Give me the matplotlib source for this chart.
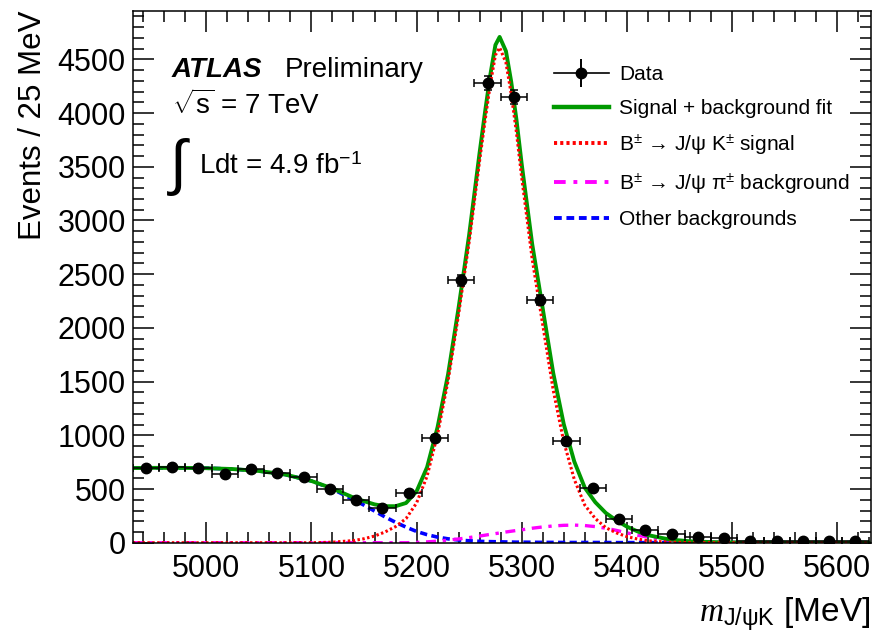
import numpy as np
import matplotlib
matplotlib.use("Agg")
import matplotlib.pyplot as plt
from matplotlib.ticker import MultipleLocator
from matplotlib.lines import Line2D

plt.rcParams['font.family'] = ['Liberation Sans', 'DejaVu Sans']
plt.rcParams['mathtext.fontset'] = 'custom'
plt.rcParams['mathtext.rm'] = 'Liberation Sans'
plt.rcParams['mathtext.it'] = 'Liberation Serif:italic'

# binned data, 25 MeV bins
m_bin = [4942.5, 4967.5, 4992.5, 5017.5, 5042.5, 5067.5, 5092.5, 5117.5, 5142.5, 5167.5,
         5192.5, 5217.5, 5242.5, 5267.5, 5292.5, 5317.5, 5342.5, 5367.5, 5392.5, 5417.5,
         5442.5, 5467.5, 5492.5, 5517.5, 5542.5, 5567.5, 5592.5, 5617.5]
events = [692, 707, 698, 637, 686, 646, 609, 500, 398, 326,
          465, 975, 2444, 4277, 4147, 2257, 945, 506, 221, 118,
          81, 55, 40, 15, 12, 12, 18, 16]

# fit curves
m_fit = [4930, 4950, 4975, 5000, 5025, 5050, 5075, 5100, 5120, 5140, 5150, 5160, 5170, 5180,
         5190, 5200, 5210, 5220, 5230, 5240, 5250, 5260, 5265, 5270, 5275, 5279, 5285, 5290,
         5295, 5300, 5310, 5320, 5330, 5340, 5350, 5360, 5370, 5380, 5390, 5400, 5410, 5420,
         5440, 5460, 5480, 5500, 5525, 5550, 5575, 5600, 5630]
total = [695, 697, 697, 694, 686, 668, 635, 575, 505, 420, 387, 357, 340, 340,
         370, 478, 703, 1077, 1570, 2190, 2866, 3635, 4001, 4348, 4634, 4709, 4577, 4293,
         3939, 3525, 2779, 2180, 1579, 1104, 756, 512, 377, 277, 208, 150, 106, 71,
         31, 13, 6, 3, 2, 1, 1, 1, 1]
sig_k = [0, 0, 0, 0, 0, 0, 0, 0, 5, 20, 37, 62, 100, 150,
         225, 370, 620, 1010, 1510, 2130, 2800, 3560, 3920, 4260, 4540, 4610, 4470, 4180,
         3820, 3400, 2640, 2030, 1420, 940, 590, 350, 225, 140, 92, 57, 35, 18,
         5, 1, 0, 0, 0, 0, 0, 0, 0]
bkg_pi = [0, 0, 0, 0, 0, 0, 0, 0, 0, 0, 0, 0, 0, 0,
          0, 3, 8, 15, 24, 35, 48, 62, 70, 78, 85, 91, 100, 107,
          114, 120, 135, 147, 156, 162, 164, 160, 150, 135, 115, 92, 70, 52,
          25, 11, 5, 2, 1, 0, 0, 0, 0]
bkg_other = [695, 697, 697, 694, 686, 668, 635, 575, 500, 400, 350, 295, 240, 190,
             145, 105, 75, 52, 36, 25, 18, 13, 11, 10, 9, 8, 7, 6,
             5, 5, 4, 3, 3, 2, 2, 2, 2, 2, 1, 1, 1, 1,
             1, 1, 1, 1, 1, 1, 1, 1, 1]

fig = plt.figure(figsize=(8.76, 6.37), dpi=100)
ax = fig.add_axes([0.1515, 0.148, 0.8425, 0.835])

blue_ls = (0, (2.0, 1.2))
pink_ls = (0, (3, 2, 1, 2))
red_ls = (0, (0.8, 0.8))
ax.plot(m_fit, bkg_other, color='#0000ff', lw=2.6, ls=blue_ls)
ax.plot(m_fit, bkg_pi, color='#ff00ff', lw=2.4, ls=pink_ls)
ax.plot(m_fit, total, color='#009900', lw=2.8)
ax.plot(m_fit, sig_k, color='#ff0000', lw=2.2, ls=red_ls)

yerr = np.sqrt(events)
ax.errorbar(m_bin, events, xerr=12.5, yerr=yerr, fmt='o', color='black', ms=7.5,
            elinewidth=1.1, capsize=3, capthick=1.1, zorder=5)

ax.set_xlim(4930, 5632)
ax.set_ylim(0, 4952)
ax.xaxis.set_major_locator(MultipleLocator(100))
ax.xaxis.set_minor_locator(MultipleLocator(20))
ax.yaxis.set_major_locator(MultipleLocator(500))
ax.yaxis.set_minor_locator(MultipleLocator(100))
ax.tick_params(which='both', direction='in', top=True, right=True, labelsize=22, width=1.1)
ax.tick_params(which='major', length=15)
ax.tick_params(which='minor', length=8)
ax.tick_params(axis='x', pad=8)
ax.tick_params(axis='y', pad=5)
for s in ax.spines.values():
    s.set_linewidth(1.1)

ax.set_ylabel('Events / 25 MeV', fontsize=22.5, loc='top', labelpad=7)
fig.text(0.994, 0.036, r'$\mathit{m}_{\mathrm{J/\psi K}}$ [MeV]', fontsize=24,
         ha='right', va='center')

ax.text(0.053, 0.889, 'ATLAS', transform=ax.transAxes, fontsize=20, fontweight='bold',
        fontstyle='italic', va='center')
ax.text(0.206, 0.889, 'Preliminary', transform=ax.transAxes, fontsize=20, va='center')
ax.text(0.053, 0.823, r'$\sqrt{\mathrm{s}}$ = 7 TeV', transform=ax.transAxes, fontsize=20,
        va='center')
ax.text(0.050, 0.706, '∫', transform=ax.transAxes, fontsize=44, va='center')
ax.text(0.0898, 0.706, r'Ldt = 4.9 fb$^{\mathrm{-1}}$', transform=ax.transAxes, fontsize=20,
        va='center')

data_h = (Line2D([], [], color='black', marker='o', ms=7.5, lw=1.2),
          Line2D([], [], color='black', marker='|', ms=20, mew=1.4, ls='none'))
handles = [
    data_h,
    Line2D([], [], color='#009900', lw=3.2),
    Line2D([], [], color='#ff0000', lw=2.8, ls=red_ls),
    Line2D([], [], color='#ff00ff', lw=2.8, ls=pink_ls),
    Line2D([], [], color='#0000ff', lw=2.8, ls=blue_ls),
]
labels = ['Data', 'Signal + background fit',
          r'B$^{\pm}$ → J/ψ K$^{\pm}$ signal',
          r'B$^{\pm}$ → J/ψ π$^{\pm}$ background',
          'Other backgrounds']
ax.legend(handles, labels, loc='upper left', bbox_to_anchor=(0.56, 0.913), frameon=False,
          fontsize=15, handlelength=2.6, labelspacing=0.69, handletextpad=0.5,
          borderaxespad=0)

fig.savefig('out.png', dpi=100)
